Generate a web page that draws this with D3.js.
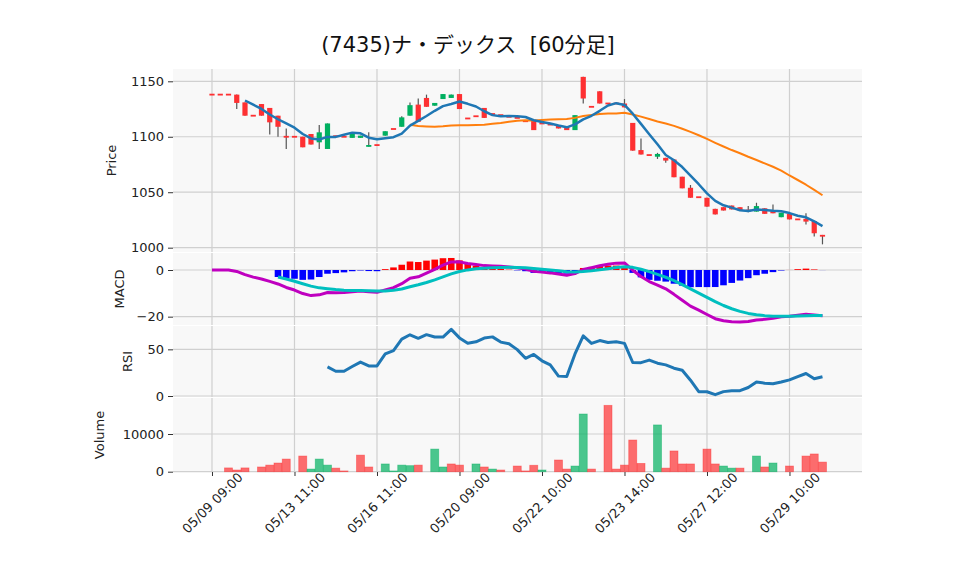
<!DOCTYPE html>
<html>
<head>
<meta charset="utf-8">
<script src="https://cdn.jsdelivr.net/npm/d3@7"></script>
<style>
body { margin: 0; background: #fff; }
svg { font-family: "DejaVu Sans", "Noto Sans CJK JP", sans-serif; }
</style>
</head>
<body>
<div id="chart"></div>
<script>
// 60 minute bars, (7435) ナ・デックス
var opens = [1138,1138,1138,1138,1131,1119,1129.5,1126,1119,1100,
    1100,1100,1102.5,1095,1089,1101,1100,1099,1099,1091,
    1092.5,1101,1107,1109,1119,1129,1135,1128,1134,1135,
    1138.5,1116.5,1118.5,1126,1120.5,1119.5,1118,1117,1114,1115,
    1112,1111,1110.5,1109,1106,1154,1127,1141,1130,1130,
    1130,1112.5,1088,1083.5,1082,1081,1079.5,1064,1054,1045.5,
    1045,1035,1036.5,1038,1036.5,1033.5,1032.5,1035.5,1033,1027.5,
    1030.5,1025.5,1026,1024,1011.5];
var highs = [1138,1138,1138,1138,1131,1119,1129.5,1126,1119,1107.5,
    1100,1100,1102.5,1110.5,1112,1101,1100,1102.5,1101,1104,
    1092.5,1105,1107,1118.5,1131,1134.5,1138,1130.5,1138.5,1138,
    1138.5,1116.5,1118.5,1126,1120.5,1119.5,1118,1117,1114,1115,
    1112,1111,1110.5,1109,1119.5,1154,1127,1141,1130,1130,
    1134,1112.5,1098.5,1083.5,1085.5,1081,1079.5,1064,1056.5,1045.5,
    1045,1035,1036.5,1038,1036.5,1037.5,1040.5,1035.5,1039,1031.5,
    1030.5,1025.5,1031,1024,1011.5];
var lows = [1138,1138,1138,1125,1119,1119,1119,1102,1100,1089,
    1100,1090.5,1093,1089,1089,1100,1100,1099,1099,1091,
    1092.5,1101,1107,1109,1119,1113.5,1127,1128,1134,1135,
    1125,1116.5,1118.5,1117,1120.5,1119.5,1118,1117,1114,1106,
    1112,1111,1107.5,1106,1106,1130,1127,1130,1130,1130,
    1126.5,1087.5,1084,1083.5,1080,1076.5,1063.5,1053.5,1045,1045.5,
    1037,1030,1033.5,1034.5,1033.5,1032,1032.5,1030.5,1031,1027.5,
    1025.5,1025.5,1021,1010,1003];
var closes = [1138,1138,1138,1130.5,1119,1119,1119,1113,1109,1100,
    1100,1090.5,1093,1104,1112,1100,1100,1102.5,1101,1092.5,
    1092.5,1105,1107,1117.5,1128.5,1113.5,1127,1130.5,1138.5,1138,
    1125,1116.5,1118.5,1117,1120.5,1119.5,1118,1117,1114,1106,
    1112,1111,1107.5,1106,1119.5,1134.5,1127,1130,1130,1130,
    1126.5,1087.5,1084,1083.5,1084.5,1078.5,1063.5,1053.5,1045,1045.5,
    1037,1030,1033.5,1034.5,1033.5,1033.5,1037.5,1030.5,1031,1031.5,
    1025.5,1025.5,1023.5,1013,1010];
var volumes = [0,0,1000,450,1000,0,1250,1750,2300,3350,
    0,4150,700,3350,1750,950,200,0,4400,1250,
    0,2050,200,1750,1600,1750,0,6000,1250,2050,
    1750,0,2050,1250,700,450,0,1500,200,1700,
    450,0,3100,700,1500,15300,700,0,17600,700,
    1750,8400,2200,0,12400,950,5500,2050,2050,0,
    6000,2050,1500,950,950,0,4150,1250,2300,0,
    1500,0,4150,4700,2550];
var tickIndex = [0, 10, 20, 30, 40, 50, 60, 70];
var tickLabels = ["05/09 09:00", "05/13 11:00", "05/16 11:00", "05/20 09:00",
    "05/22 10:00", "05/23 14:00", "05/27 12:00", "05/29 10:00"];
var priceTicks = [1000, 1050, 1100, 1150];
var macdTicks = [-20, 0];
var rsiTicks = [0, 50];
var volTicks = [0, 10000];

// indicators from the closes
function sma(arr, n) {
    return arr.map(function (d, i) {
        if (i < n - 1) return null;
        return d3.mean(arr.slice(i - n + 1, i + 1));
    });
}
function ema(arr, span) {
    var a = 2 / (span + 1), out = [];
    arr.forEach(function (d, i) {
        out.push(i === 0 ? d : a * d + (1 - a) * out[i - 1]);
    });
    return out;
}
var ma5 = sma(closes, 5);
var ma25 = sma(closes, 25);
var e12 = ema(closes, 12), e26 = ema(closes, 26);
var macd = e12.map(function (d, i) { return d - e26[i]; });
var sig = ema(macd, 9);
var hist = macd.map(function (d, i) { return d - sig[i]; });
var rsi = closes.map(function (d, i) {
    if (i < 14) return null;
    var g = 0, l = 0;
    for (var k = i - 13; k <= i; k++) {
        var ch = closes[k] - closes[k - 1];
        if (ch > 0) g += ch; else l -= ch;
    }
    return l === 0 ? 100 : 100 - 100 / (1 + g / l);
});

var w = 958, h = 575;
var left = 173, right = 862;
var upColor = "#00b060", downColor = "#fe3032";

var svg = d3.select("#chart").append("svg")
    .attr("width", w)
    .attr("height", h);

var x = d3.scaleLinear().domain([-4.727, 78.79]).range([left, right]);

function fmt(d) {
    return d < 0 ? "\u2212" + Math.abs(d) : String(d);
}

var panels = [
    {name: "Price", top: 69, bottom: 252, labelX: 116,
        y: d3.scaleLinear().domain([996.1, 1161.1]).range([252, 69]), ticks: priceTicks},
    {name: "MACD", top: 253, bottom: 325, labelX: 124,
        y: d3.scaleLinear().domain([-23.57, 7.29]).range([325, 253]), ticks: macdTicks},
    {name: "RSI", top: 326, bottom: 397, labelX: 132,
        y: d3.scaleLinear().domain([-1.07, 75]).range([397, 326]), ticks: rsiTicks},
    {name: "Volume", top: 398, bottom: 472, labelX: 104,
        y: d3.scaleLinear().domain([-80, 19550]).range([472, 398]), ticks: volTicks}
];

panels.forEach(function (p) {
    var g = svg.append("g");
    g.append("rect")
        .attr("x", left).attr("y", p.top)
        .attr("width", right - left).attr("height", p.bottom - p.top)
        .attr("fill", "#f8f8f8");
    g.selectAll("line.hg")
        .data(p.ticks)
        .enter()
        .append("line")
        .attr("x1", left).attr("x2", right)
        .attr("y1", function (d) { return p.y(d); })
        .attr("y2", function (d) { return p.y(d); })
        .attr("stroke", "#d0d0d0").attr("stroke-width", 1.2);
    g.selectAll("line.vg")
        .data(tickIndex)
        .enter()
        .append("line")
        .attr("x1", function (d) { return x(d); })
        .attr("x2", function (d) { return x(d); })
        .attr("y1", p.top).attr("y2", p.bottom)
        .attr("stroke", "#d0d0d0").attr("stroke-width", 1.2);

    var ax = svg.append("g")
        .attr("transform", "translate(" + left + ",0)")
        .call(d3.axisLeft(p.y).tickValues(p.ticks).tickSize(5).tickPadding(4).tickFormat(fmt));
    ax.select(".domain").remove();
    ax.selectAll("text").attr("font-size", 13).attr("fill", "#222")
        .attr("font-family", "DejaVu Sans");
    ax.selectAll("line").attr("stroke", "#333");

    svg.append("text")
        .attr("transform", "translate(" + p.labelX + "," + ((p.top + p.bottom) / 2) + ") rotate(-90)")
        .attr("text-anchor", "middle")
        .attr("font-size", 13)
        .attr("fill", "#222")
        .text(p.name);
});

var yP = panels[0].y, yM = panels[1].y, yR = panels[2].y, yV = panels[3].y;
var idx = d3.range(closes.length);

// candles
svg.selectAll("line.wick")
    .data(idx.filter(function (i) { return highs[i] > lows[i]; }))
    .enter()
    .append("line")
    .attr("x1", function (i) { return x(i); })
    .attr("x2", function (i) { return x(i); })
    .attr("y1", function (i) { return yP(highs[i]); })
    .attr("y2", function (i) { return yP(lows[i]); })
    .attr("stroke", "#555")
    .attr("stroke-width", 1.2);

svg.selectAll("rect.body")
    .data(idx)
    .enter()
    .append("rect")
    .attr("x", function (i) { return x(i) - 2.6; })
    .attr("width", 5.2)
    .attr("y", function (i) {
        var t = yP(Math.max(opens[i], closes[i]));
        var hh = Math.abs(yP(opens[i]) - yP(closes[i]));
        return hh < 1.8 ? t - (1.8 - hh) / 2 : t;
    })
    .attr("height", function (i) {
        return Math.max(1.8, Math.abs(yP(opens[i]) - yP(closes[i])));
    })
    .attr("fill", function (i) { return closes[i] > opens[i] ? upColor : downColor; });

// lines
function drawLine(vals, y, color, width) {
    var line = d3.line()
        .defined(function (d) { return d != null; })
        .x(function (d, i) { return x(i); })
        .y(function (d) { return y(d); });
    svg.append("path")
        .datum(vals)
        .attr("d", line)
        .attr("fill", "none")
        .attr("stroke", color)
        .attr("stroke-width", width)
        .attr("stroke-linejoin", "round");
}
drawLine(ma25, yP, "#ff7f0e", 2);
drawLine(ma5, yP, "#1f77b4", 2.5);

// MACD
svg.selectAll("rect.hist")
    .data(idx.filter(function (i) { return i >= 8; }))
    .enter()
    .append("rect")
    .attr("x", function (i) { return x(i) - 3.3; })
    .attr("width", 6.6)
    .attr("y", function (i) { return Math.min(yM(0), yM(hist[i])); })
    .attr("height", function (i) { return Math.abs(yM(hist[i]) - yM(0)); })
    .attr("fill", function (i) { return hist[i] >= 0 ? "#ff0000" : "#0000ff"; });
drawLine(macd, yM, "#bf00bf", 3);
drawLine(sig.map(function (d, i) { return i < 8 ? null : d; }), yM, "#00bfbf", 3);

// RSI
drawLine(rsi, yR, "#1f77b4", 3);

// volume
svg.selectAll("rect.vol")
    .data(idx.filter(function (i) { return volumes[i] > 0; }))
    .enter()
    .append("rect")
    .attr("x", function (i) { return x(i) - 4; })
    .attr("width", 8)
    .attr("y", function (i) { return yV(volumes[i]); })
    .attr("height", function (i) { return yV(0) - yV(volumes[i]); })
    .attr("fill", function (i) { return i > 0 && closes[i] > closes[i - 1] ? upColor : downColor; })
    .attr("fill-opacity", 0.7)
    .attr("stroke", function (i) { return i > 0 && closes[i] > closes[i - 1] ? upColor : downColor; })
    .attr("stroke-opacity", 0.5)
    .attr("stroke-width", 0.8);

// x axis
var xa = svg.append("g")
    .attr("transform", "translate(0,472)")
    .call(d3.axisBottom(x).tickValues(tickIndex).tickSize(4)
        .tickFormat(function (d, i) { return tickLabels[i]; }));
xa.select(".domain").remove();
xa.selectAll("line").attr("stroke", "#333");
xa.selectAll("text")
    .attr("font-size", 13)
    .attr("font-family", "DejaVu Sans")
    .attr("fill", "#222")
    .attr("text-anchor", "middle")
    .attr("dy", null)
    .attr("y", null)
    .attr("dominant-baseline", "central")
    .attr("transform", "translate(0,31) rotate(-45)");

// title
svg.append("text")
    .attr("x", 468)
    .attr("y", 52)
    .attr("text-anchor", "middle")
    .attr("font-size", 21)
    .attr("fill", "#111")
    .style("white-space", "pre")
    .text("(7435)ナ・デックス  [60分足]");
</script>
</body>
</html>
